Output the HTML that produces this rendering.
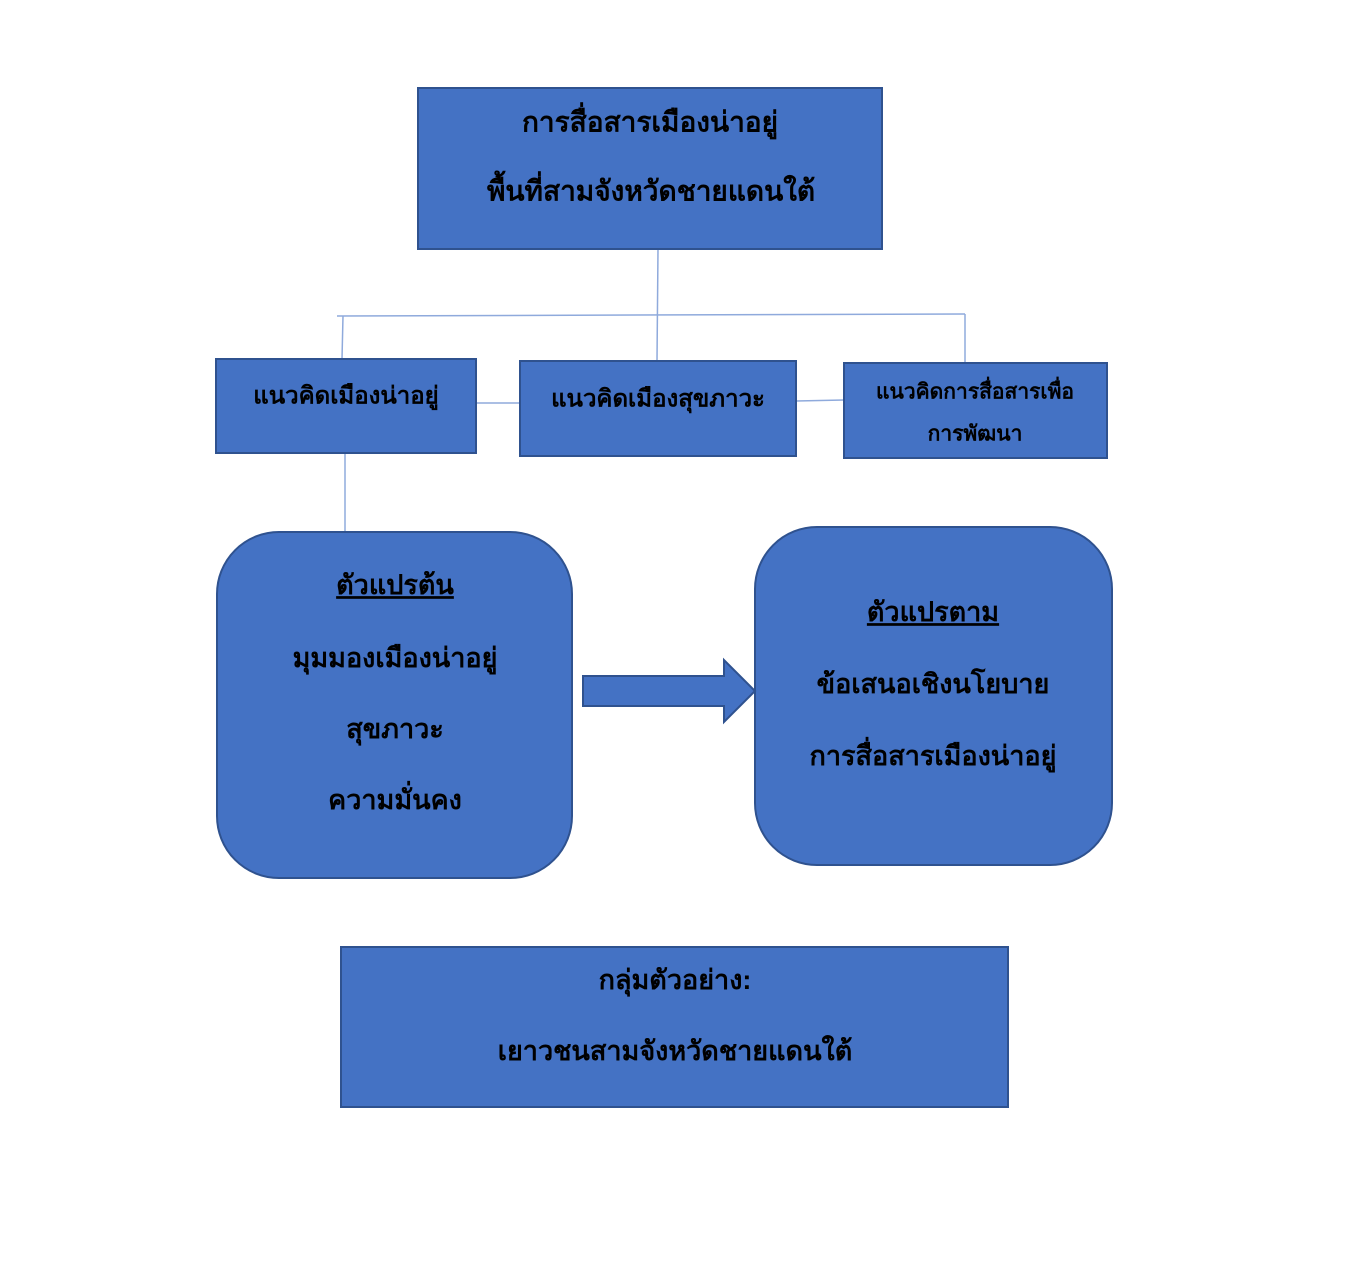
<!DOCTYPE html>
<html><head><meta charset="utf-8"><style>
html,body{margin:0;padding:0;background:#fff;}
svg text{font-family:"Liberation Sans","DejaVu Sans",sans-serif;font-weight:bold;fill:#000;text-anchor:middle;dominant-baseline:middle;}
</style></head><body>
<svg width="1352" height="1268" viewBox="0 0 1352 1268" xmlns="http://www.w3.org/2000/svg">
<g stroke="#8FAADC" stroke-width="1.5" fill="none">
<line x1="658" y1="249" x2="657" y2="361"/>
<line x1="337" y1="316" x2="965" y2="314"/>
<line x1="343" y1="316" x2="342" y2="359"/>
<line x1="965" y1="314" x2="965" y2="363"/>
<line x1="476" y1="403" x2="520" y2="403"/>
<line x1="796" y1="401" x2="844" y2="400"/>
<line x1="345" y1="453" x2="345" y2="532"/>
</g>
<g fill="#4472C4" stroke="#2F528F" stroke-width="2">
<rect x="418" y="88" width="464" height="161"/>
<rect x="216" y="359" width="260" height="94"/>
<rect x="520" y="361" width="276" height="95"/>
<rect x="844" y="363" width="263" height="95"/>
<rect x="217" y="532" width="355" height="346" rx="62"/>
<rect x="755" y="527" width="357" height="338" rx="62"/>
<rect x="341" y="947" width="667" height="160"/>
<polygon points="583,676 724,676 724,660 755,691 724,722 724,706 583,706"/>
</g>
<text x="650" y="124" font-size="28">การสื่อสารเมืองน่าอยู่</text>
<text x="651" y="193" font-size="28">พื้นที่สามจังหวัดชายแดนใต้</text>
<text x="346" y="397" font-size="24">แนวคิดเมืองน่าอยู่</text>
<text x="658" y="400" font-size="24">แนวคิดเมืองสุขภาวะ</text>
<text x="975" y="393" font-size="21">แนวคิดการสื่อสารเพื่อ</text>
<text x="975" y="435" font-size="21">การพัฒนา</text>
<text x="395" y="587" font-size="27" text-decoration="underline">ตัวแปรต้น</text>
<text x="395" y="660" font-size="27">มุมมองเมืองน่าอยู่</text>
<text x="395" y="731" font-size="27">สุขภาวะ</text>
<text x="395" y="802" font-size="27">ความมั่นคง</text>
<text x="933" y="614" font-size="27" text-decoration="underline">ตัวแปรตาม</text>
<text x="933" y="686" font-size="27">ข้อเสนอเชิงนโยบาย</text>
<text x="933" y="758" font-size="27">การสื่อสารเมืองน่าอยู่</text>
<text x="675" y="982" font-size="27">กลุ่มตัวอย่าง:</text>
<text x="675" y="1053" font-size="27">เยาวชนสามจังหวัดชายแดนใต้</text>
</svg>
</body></html>
